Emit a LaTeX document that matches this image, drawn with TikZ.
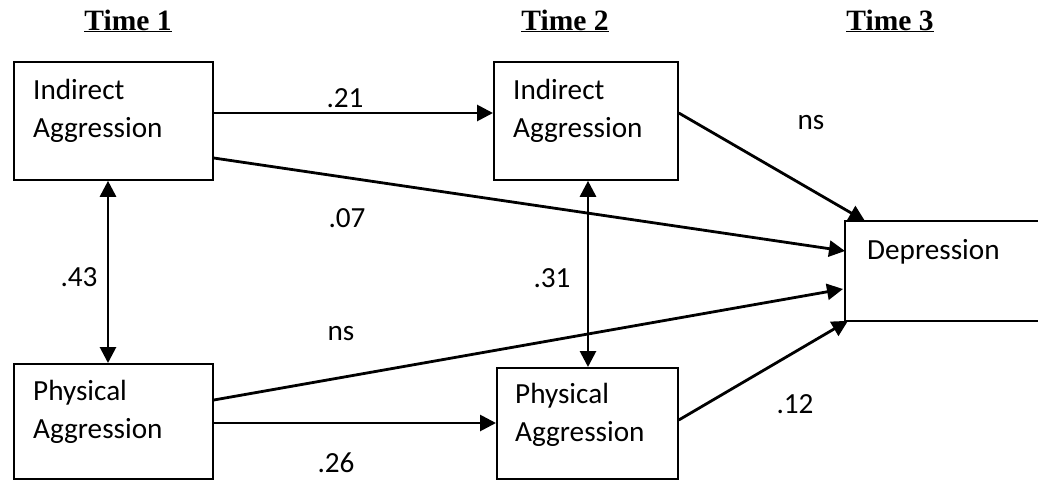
\documentclass[tikz,border=0pt]{standalone}
\usepackage{fontspec}
\setmainfont{Carlito}
\newfontfamily\titlefont{Liberation Serif}
\usetikzlibrary{arrows.meta,calc}
\begin{document}
\begin{tikzpicture}[x=1pt,y=-1pt,
  box/.style={draw=black,line width=1.8pt,anchor=north west,inner sep=0pt},
  boxtext/.style={anchor=base west,inner sep=0pt,text width=170pt,align=left,font=\fontsize{29.2}{38}\selectfont},
  lab/.style={inner sep=0pt,font=\fontsize{29.2}{34}\selectfont},
  ttl/.style={anchor=base,inner sep=0pt,font=\titlefont\bfseries\fontsize{29.5}{34}\selectfont},
  tip/.tip={Triangle[length=16pt,width=16pt]},
  conn/.style={line width=2.8pt,-tip},
  dconn/.style={line width=2.8pt,tip-tip},
]
\useasboundingbox (0,0) rectangle (1038,480);

% titles
\node[ttl] (t1) at (128,30) {\underline{Time 1}};
\node[ttl] (t2) at (565,30) {\underline{Time 2}};
\node[ttl] (t3) at (890,30) {\underline{Time 3}};

% boxes
\node[box,minimum width=199pt,minimum height=118pt] (A) at (13,61) {};
\node[box,minimum width=199pt,minimum height=115pt] (B) at (13,363) {};
\node[box,minimum width=184pt,minimum height=118pt] (C) at (493,61) {};
\node[box,minimum width=181pt,minimum height=111pt] (D) at (496,367) {};
\node[box,draw=none,minimum width=193pt,minimum height=98pt] (E) at (845,221) {};
\draw[line width=1.8pt] (E.north east) -- (E.north west) -- (E.south west) -- (E.south east);

% box texts
\node[boxtext] (At) at ($(A.north west)+(20,38)$) {Indirect\\Aggression};
\node[boxtext] (Bt) at ($(B.north west)+(20,37)$) {Physical\\Aggression};
\node[boxtext] (Ct) at ($(C.north west)+(20,38)$) {Indirect\\Aggression};
\node[boxtext] (Dt) at ($(D.north west)+(19,36)$) {Physical\\Aggression};
\node[boxtext] (Et) at ($(E.north west)+(22,38)$) {Depression};

% connector end points
\path (A.north east) ++(0,52) coordinate (a1);
\path (A.north east) ++(0,97) coordinate (a2);
\path (A.south west) ++(95,0) coordinate (a3);
\path (B.north east) ++(0,37) coordinate (b1);
\path (B.north east) ++(0,60) coordinate (b2);
\path (C.south west) ++(95,0) coordinate (c1);
\path (C.north east) ++(0,52) coordinate (c2);
\path (D.north east) ++(0,53) coordinate (d1);
\path (E.north west) ++(0,30) coordinate (e1);
\path (E.north west) ++(-2,68) coordinate (e2);
\path (E.north west) ++(20,0) coordinate (e3);
\path (E.south west) ++(3,0) coordinate (e4);

% connectors
\draw[conn] (a1) -- (a1 -| C.west);
\draw[conn] (a2) -- (e1);
\draw[dconn] (a3) -- (a3 |- B.north);
\draw[conn] (b1) -- (e2);
\draw[conn] (b2) -- (b2 -| D.west);
\draw[dconn] (c1) -- (c1 |- D.north);
\draw[conn] (c2) -- (e3);
\draw[conn] (d1) -- (e4);

% labels
\node[lab] (l21) at (345,98) {.21};
\node[lab] (l07) at (347,218) {.07};
\node[lab] (l43) at (79,277) {.43};
\node[lab] (lns1) at (341,334) {ns};
\node[lab] (l26) at (336,463) {.26};
\node[lab] (l31) at (552,278) {.31};
\node[lab] (lns2) at (811,123) {ns};
\node[lab] (l12) at (795,404) {.12};
\end{tikzpicture}
\end{document}
